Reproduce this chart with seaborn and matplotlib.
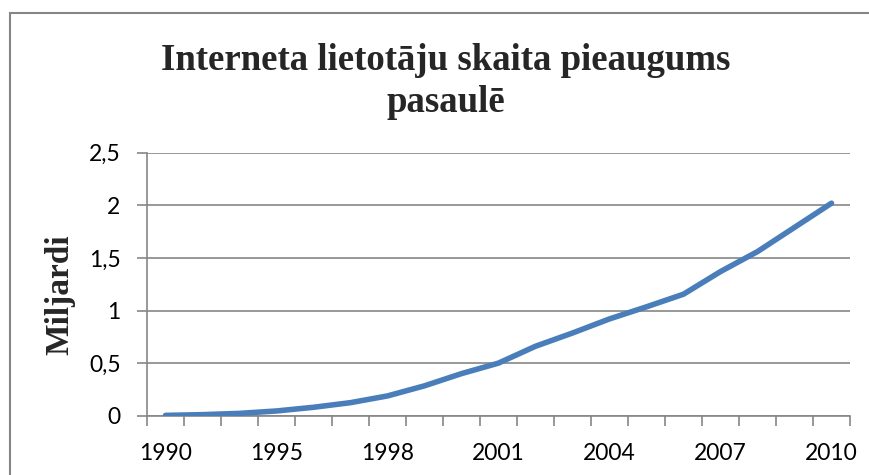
import matplotlib
matplotlib.use("Agg")
import matplotlib.pyplot as plt
import seaborn as sns
import pandas as pd
from matplotlib.patches import Rectangle
from matplotlib.ticker import FixedLocator, FuncFormatter

years = ["1990", "1993", "1994", "1995", "1996", "1997", "1998", "1999", "2000",
         "2001", "2002", "2003", "2004", "2005", "2006", "2007", "2008", "2009", "2010"]
users_bn = [0.003, 0.01, 0.022, 0.045, 0.08, 0.124, 0.188, 0.284, 0.40,
            0.50, 0.66, 0.786, 0.92, 1.035, 1.155, 1.37, 1.56, 1.79, 2.02]
shown_labels = ["1990", "1995", "1998", "2001", "2004", "2007", "2010"]
title_text = "Interneta lietotāju skaita pieaugums\npasaulē"
ylabel_text = "Miljardi"
yticks = [0, 0.5, 1, 1.5, 2, 2.5]

df = pd.DataFrame({"year": years, "users": users_bn})

sns.set_style("white")
plt.rcParams["font.family"] = ["Lato", "DejaVu Sans"]

W, H = 870, 475
fig = plt.figure(figsize=(W / 100, H / 100), dpi=100)
ax = fig.add_axes([147 / W, 1 - 415.7 / H, (850 - 147) / W, (415.7 - 152.7) / H])

grid_c = "#868686"
sns.lineplot(data=df, x="year", y="users", ax=ax, color="#4A7EBB",
             linewidth=4, solid_capstyle="round", solid_joinstyle="round",
             zorder=3)

n = len(years)
ax.set_xlim(-0.5, n - 0.5)
ax.set_ylim(0, 2.5)

# y axis
ax.yaxis.set_major_locator(FixedLocator(yticks))
ax.yaxis.set_major_formatter(FuncFormatter(lambda v, p: (f"{v:g}").replace(".", ",")))
ax.yaxis.grid(True, color=grid_c, linewidth=1.2)
ax.tick_params(axis="y", which="major", length=7, width=1.2, color=grid_c,
               labelsize=16.5, pad=12, left=True, labelcolor="black")

# x axis: labels at category centres, tick marks at boundaries
label_pos = [years.index(y) for y in shown_labels]
ax.set_xticks(label_pos)
ax.set_xticklabels(shown_labels)
ax.set_xticks([i - 0.5 for i in range(n + 1)], minor=True)
ax.tick_params(axis="x", which="major", length=0, labelsize=16.5, pad=20,
               labelcolor="black")
ax.tick_params(axis="x", which="minor", length=7, width=1.2, color=grid_c,
               bottom=True)
ax.xaxis.grid(False)

for s in ["top", "right"]:
    ax.spines[s].set_visible(False)
for s in ["left", "bottom"]:
    ax.spines[s].set_color(grid_c)
    ax.spines[s].set_linewidth(1.2)

ax.set_xlabel("")
ax.set_ylabel(ylabel_text, fontsize=24, fontweight="bold",
              family=["Liberation Serif", "DejaVu Serif"], labelpad=10)
ax.yaxis.label.set_position((0, 0.46))

fig.text(446 / W, 1 - 43 / H, title_text, ha="center", va="top",
         fontsize=26.5, fontweight="bold", family=["Liberation Serif", "DejaVu Serif"],
         linespacing=1.25)

# chart frame
fig.patches.append(Rectangle((10 / W, -0.1), 1.2, 1 - 13 / H + 0.1,
                             transform=fig.transFigure, fill=False,
                             edgecolor=grid_c, linewidth=1.5))

fig.savefig("out.png", dpi=100)
